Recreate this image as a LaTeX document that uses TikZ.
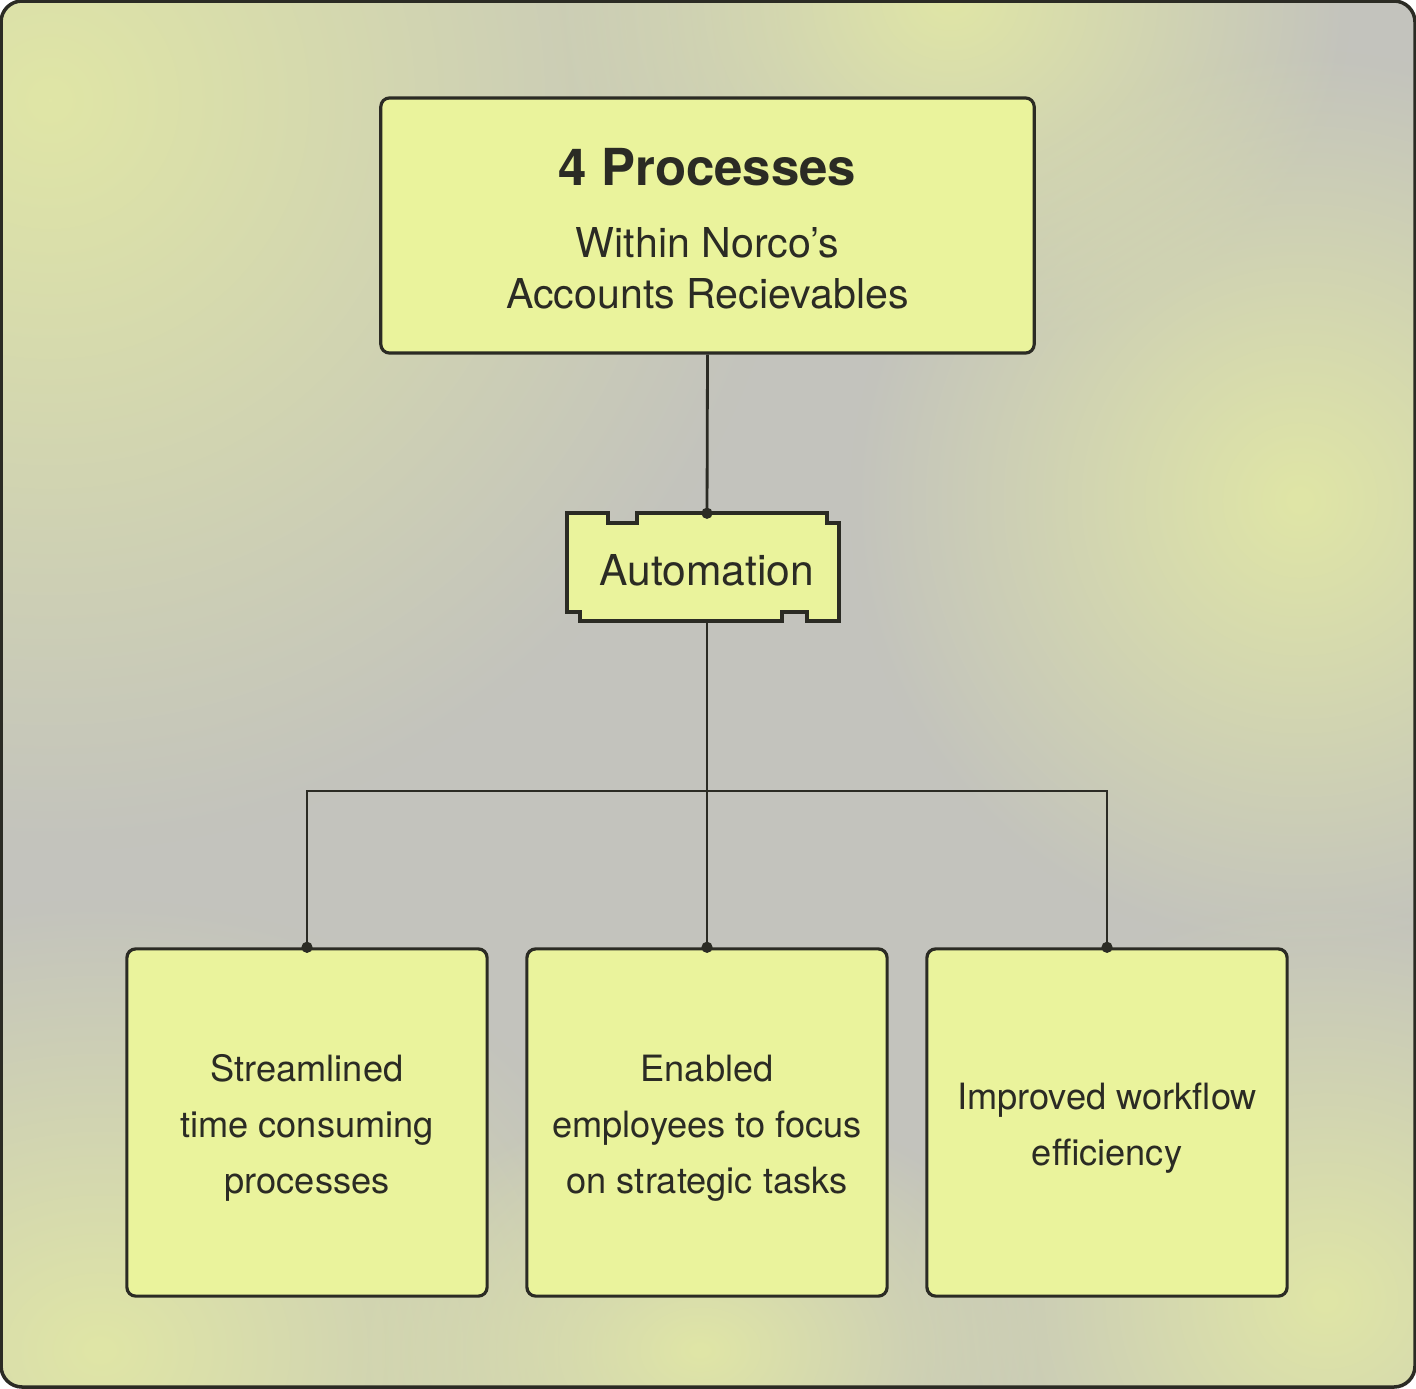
\documentclass[tikz,border=0pt]{standalone}
\usepackage{fontspec}
\setmainfont{TeX Gyre Heros}
\usetikzlibrary{fadings}
\definecolor{bggray}{HTML}{C3C3BD}
\definecolor{bgyellow}{HTML}{E0E6A6}
\definecolor{boxfill}{HTML}{EAF39C}
\definecolor{ink}{HTML}{2B2B24}
\tikzfading[name=softglow, inner color=transparent!0, outer color=transparent!100]
\tikzset{
    card/.style={draw=ink, fill=boxfill, line width=0.9pt, rounded corners=2.5pt,
        inner sep=0pt, minimum width=3.6cm, minimum height=3.47cm},
    cardtext/.style={inner sep=0pt, align=center, text=ink,
        font=\fontsize{10.3}{15.9}\selectfont},
    link/.style={draw=ink, line width=0.8pt},
    glow/.style={fill=bgyellow, path fading=softglow},
}
\newcommand{\joint}[1]{\fill[ink] (#1) circle (1.6pt);}

\begin{document}
\begin{tikzpicture}[x=0.01cm,y=-0.01cm]
    % background
    \useasboundingbox (0,0) rectangle (1416,1388);
    \begin{scope}
        \clip[rounded corners=6pt] (1,1) rectangle (1415,1387);
        \fill[bggray] (0,0) rectangle (1416,1388);
        \fill[glow] (-700,-650) rectangle (800,850);
        \fill[glow] (550,-350) rectangle (1350,350);
        \fill[glow] (850,50) rectangle (1750,950);
        \fill[glow] (-450,900) rectangle (650,1800);
        \fill[glow] (900,900) rectangle (1750,1700);
        \fill[glow] (350,1100) rectangle (1050,1600);
    \end{scope}
    \draw[ink, line width=1pt, rounded corners=6pt] (1,1) rectangle (1415,1387);

    % boxes
    \node[draw=ink, fill=boxfill, line width=0.9pt, rounded corners=2.5pt,
        minimum width=6.53cm, minimum height=2.55cm] (top) at (707.5,225.5) {};
    \node[cardtext, font=\fontsize{11.7}{14.5}\selectfont] (toptext) at (707.5,229)
        {{\bfseries\fontsize{14.5}{17}\selectfont 4 Processes}\\[6pt]
         Within Norco’s\\Accounts Recievables};
    \node[inner sep=0pt, minimum width=2.73cm, minimum height=1.07cm] (auto) at (707,567.5) {};
    \draw[ink, fill=boxfill, line width=0.9pt]
        (567,513) -- (608,513) -- (608,523) -- (637,523) -- (637,513) -- (827,513)
        -- (827,523) -- (839,523) -- (839,621) -- (807,621) -- (807,612) -- (782,612)
        -- (782,621) -- (580,621) -- (580,612) -- (567,612) -- cycle;
    \node[inner sep=0pt, font=\fontsize{12.1}{14}\selectfont, text=ink] (autolabel)
        at (707,570.5) {Automation};

    \node[card] (l) at (307,1122.5) {};
    \node[card] (m) at (707,1122.5) {};
    \node[card] (r) at (1107,1122.5) {};
    \node[cardtext] (ltext) at (307,1128) {Streamlined\\time consuming\\processes};
    \node[cardtext] (mtext) at (707,1128) {Enabled\\employees to focus\\on strategic tasks};
    \node[cardtext] (rtext) at (1107,1128.5) {Improved workflow\\efficiency};

    % connectors
    \coordinate (split) at (707,791);
    \draw[link] (top.south) -- (auto.north);
    \draw[link] (auto.south) -- (m.north);
    \draw[link] (l.north) |- (split) -| (r.north);
    \joint{auto.north}
    \joint{l.north}
    \joint{m.north}
    \joint{r.north}
\end{tikzpicture}
\end{document}
